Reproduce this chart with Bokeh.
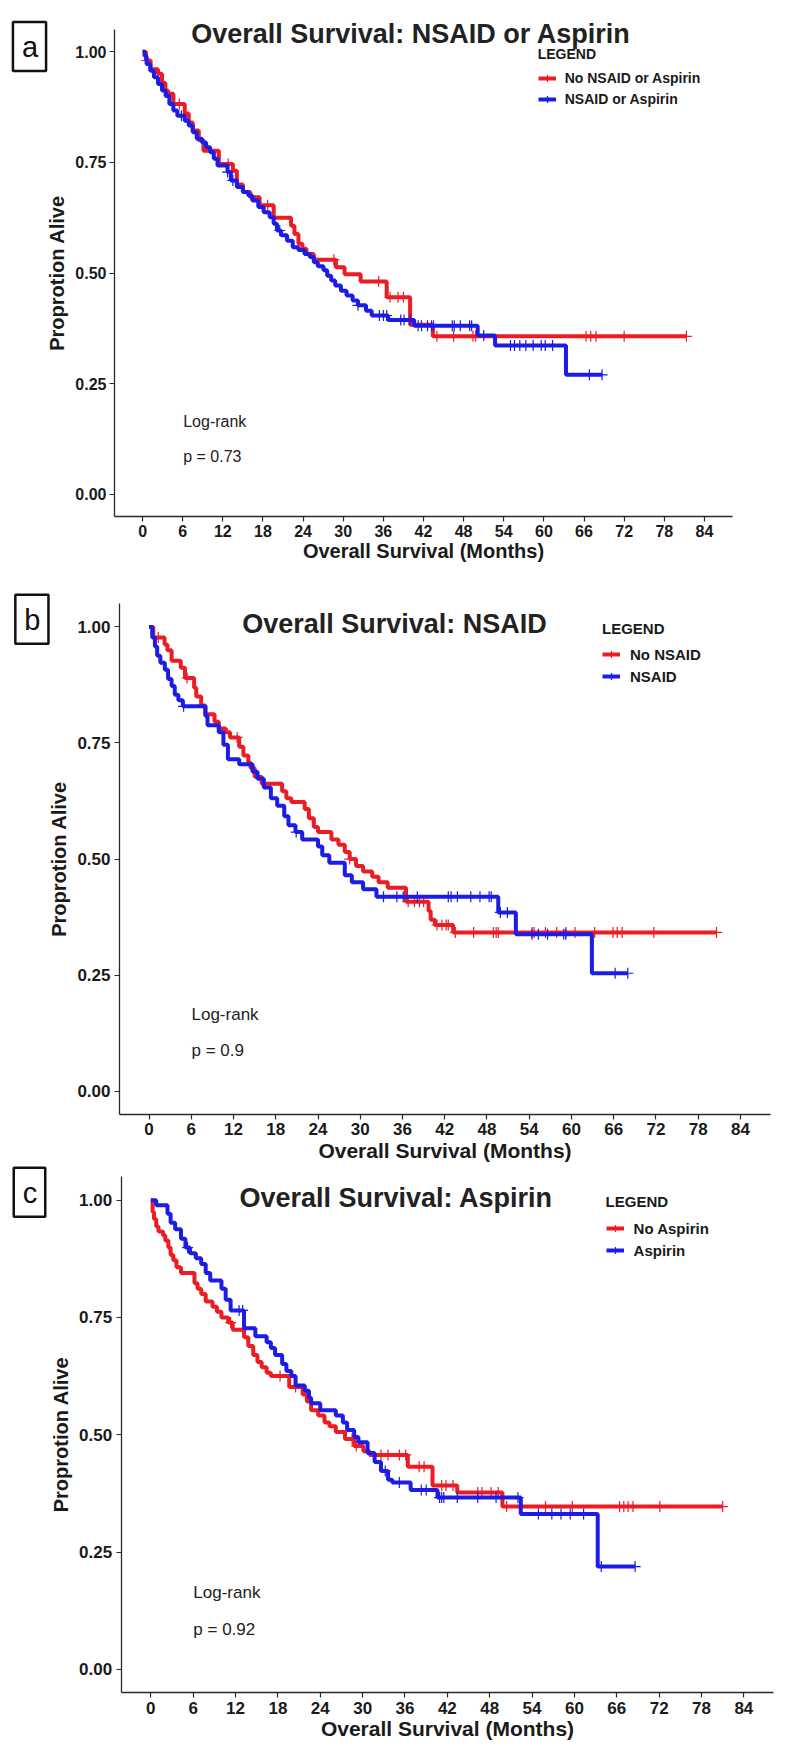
import numpy as np
from bokeh.plotting import figure
from bokeh.models import (Label, Legend, LegendItem, FixedTicker,
                          NumeralTickFormatter, Range1d)
from bokeh.layouts import column
from bokeh.embed import file_html
from bokeh.resources import INLINE

# ---------------- data ----------------
month_ticks = [0, 6, 12, 18, 24, 30, 36, 42, 48, 54, 60, 66, 72, 78, 84]
surv_ticks = [0.0, 0.25, 0.50, 0.75, 1.00]

# Panel a: NSAID or Aspirin
a_red_label = "No NSAID or Aspirin"
a_red_t = [0.5, 1.2, 2.3, 2.9, 3.4, 3.8, 4.6, 6.3, 6.9, 7.5, 8.4, 9.1, 11.4, 13.5,
           14.1, 15.0, 16.1, 17.5, 19.6, 22.2, 22.7, 23.3, 23.9, 24.5, 25.6, 28.9,
           30.2, 32.6, 36.5, 40.0, 43.4]
a_red_s = [0.980, 0.960, 0.950, 0.930, 0.912, 0.905, 0.882, 0.860, 0.840, 0.822,
           0.800, 0.776, 0.746, 0.731, 0.700, 0.683, 0.671, 0.653, 0.625, 0.607,
           0.588, 0.566, 0.555, 0.543, 0.530, 0.513, 0.497, 0.481, 0.445, 0.383,
           0.357]
a_red_c = [0.6, 5.5, 12.8, 18.7, 28.6, 35.3, 37.0, 38.2, 39.0, 44.0, 46.5, 49.4,
           49.8, 66.3, 67.0, 67.8, 72.0, 81.3]

a_blue_label = "NSAID or Aspirin"
a_blue_t = [0.3, 0.6, 1.15, 1.7, 2.3, 2.9, 3.45, 4.0, 4.6, 5.2, 6.3, 6.9, 7.5, 8.1,
            8.9, 9.5, 10.1, 10.65, 11.2, 12.7, 13.2, 14.1, 15.0, 15.8, 16.4, 17.3,
            18.1, 19.0, 19.6, 20.1, 20.7, 21.6, 22.45, 23.3, 24.2, 25.0, 25.6, 26.2,
            27.05, 27.6, 28.2, 28.8, 29.65, 30.5, 31.4, 32.2, 33.4, 34.25, 36.7,
            40.6, 50.1, 52.7, 63.3]
a_blue_s = [0.990, 0.972, 0.957, 0.942, 0.927, 0.912, 0.900, 0.882, 0.867, 0.855,
            0.844, 0.833, 0.818, 0.803, 0.795, 0.784, 0.773, 0.758, 0.743, 0.728,
            0.709, 0.694, 0.683, 0.675, 0.664, 0.649, 0.637, 0.626, 0.611, 0.596,
            0.585, 0.573, 0.558, 0.552, 0.543, 0.536, 0.524, 0.515, 0.506, 0.494,
            0.483, 0.472, 0.460, 0.449, 0.438, 0.427, 0.415, 0.404, 0.394, 0.381,
            0.359, 0.336, 0.270]
a_blue_c = [5.8, 12.7, 13.5, 20.5, 32.2, 35.4, 36.0, 36.5, 38.6, 39.1, 40.0, 41.2,
            41.7, 42.6, 43.2, 43.5, 46.3, 46.6, 47.5, 48.9, 49.2, 51.0, 55.0, 55.6,
            56.4, 57.3, 58.4, 59.6, 60.2, 61.3, 66.8, 68.7]

# Panel b: NSAID
b_red_label = "No NSAID"
b_red_t = [0.6, 2.2, 2.6, 3.2, 4.5, 5.1, 6.4, 6.7, 7.4, 8.0, 9.3, 9.9, 10.9, 11.5,
           12.8, 13.4, 14.1, 14.4, 15.0, 16.0, 18.9, 19.5, 20.2, 22.1, 22.7, 23.4,
           24.0, 25.9, 26.9, 27.8, 28.5, 29.4, 30.4, 31.7, 32.6, 33.9, 36.5, 39.7,
           40.0, 40.6, 43.2]
b_red_s = [0.977, 0.962, 0.950, 0.927, 0.912, 0.890, 0.869, 0.850, 0.831, 0.812,
           0.796, 0.781, 0.773, 0.762, 0.742, 0.723, 0.708, 0.696, 0.677, 0.662,
           0.646, 0.631, 0.623, 0.608, 0.588, 0.569, 0.558, 0.542, 0.531, 0.515,
           0.500, 0.485, 0.473, 0.462, 0.450, 0.438, 0.408, 0.388, 0.369, 0.358,
           0.342]
b_red_c = [1.3, 5.4, 12.5, 28.5, 36.8, 37.7, 38.4, 39.0, 40.9, 41.6, 42.2, 42.5,
           43.5, 46.1, 48.9, 49.3, 49.6, 54.4, 54.7, 56.3, 57.9, 59.2, 60.5, 63.3,
           65.9, 66.5, 67.2, 71.7, 80.6]

b_blue_label = "NSAID"
b_blue_t = [0.45, 0.83, 1.15, 1.6, 2.24, 2.7, 3.2, 3.65, 4.16, 4.8, 8.0, 8.3, 9.9,
            10.56, 11.2, 12.8, 14.7, 15.4, 16.3, 17.3, 18.2, 19.2, 19.8, 20.8, 21.75,
            24.0, 24.6, 25.6, 27.8, 28.8, 30.4, 32.3, 49.6, 52.1, 62.9]
b_blue_s = [0.977, 0.958, 0.938, 0.923, 0.908, 0.888, 0.873, 0.854, 0.842, 0.829,
            0.808, 0.788, 0.773, 0.746, 0.715, 0.704, 0.688, 0.673, 0.654, 0.631,
            0.615, 0.592, 0.573, 0.558, 0.542, 0.527, 0.508, 0.492, 0.465, 0.450,
            0.435, 0.419, 0.385, 0.338, 0.254]
b_blue_c = [4.9, 20.9, 33.3, 35.2, 36.1, 38.1, 42.5, 42.9, 43.8, 45.7, 47.0, 48.3,
            48.6, 49.9, 50.9, 54.4, 55.3, 56.6, 58.9, 59.2, 66.2, 68.0]

# Panel c: Aspirin
c_red_label = "No Aspirin"
c_red_t = [0.25, 0.45, 0.76, 1.08, 1.72, 2.04, 2.48, 2.8, 3.18, 3.63, 4.27, 6.18,
           6.62, 7.13, 7.77, 8.73, 9.36, 10.0, 10.96, 11.6, 13.2, 13.8, 14.5, 15.1,
           15.7, 16.4, 17.0, 19.6, 21.5, 22.1, 22.7, 23.7, 24.6, 25.3, 26.2, 27.5,
           28.8, 30.1, 31.0, 36.4, 39.9, 43.4, 49.8]
c_red_s = [0.975, 0.960, 0.944, 0.933, 0.925, 0.914, 0.899, 0.883, 0.872, 0.857,
           0.845, 0.823, 0.811, 0.800, 0.784, 0.773, 0.762, 0.750, 0.739, 0.724,
           0.708, 0.689, 0.670, 0.655, 0.644, 0.632, 0.625, 0.602, 0.586, 0.571,
           0.552, 0.541, 0.526, 0.518, 0.506, 0.491, 0.476, 0.465, 0.457, 0.432,
           0.392, 0.377, 0.347]
c_red_c = [11.3, 18.3, 20.5, 28.5, 29.1, 32.6, 33.6, 35.2, 36.1, 38.0, 38.7, 41.2,
           41.8, 42.8, 46.3, 46.9, 48.2, 49.2, 50.4, 55.9, 59.7, 66.4, 67.0, 67.6,
           68.3, 72.1, 81.0]

c_blue_label = "Aspirin"
c_blue_t = [0.76, 2.36, 2.8, 3.44, 4.27, 4.9, 5.54, 6.37, 7.13, 7.77, 8.41, 10.0,
            10.6, 11.3, 13.2, 14.8, 16.4, 17.0, 17.6, 18.6, 19.2, 19.9, 20.5, 21.8,
            22.4, 22.7, 24.0, 26.2, 27.2, 27.8, 28.8, 29.4, 30.7, 31.7, 32.6, 33.6,
            34.2, 36.8, 40.6, 52.4, 63.3]
c_blue_s = [0.989, 0.971, 0.952, 0.938, 0.918, 0.899, 0.887, 0.876, 0.864, 0.845,
            0.829, 0.811, 0.788, 0.765, 0.727, 0.710, 0.697, 0.685, 0.670, 0.651,
            0.636, 0.625, 0.605, 0.594, 0.579, 0.567, 0.552, 0.541, 0.526, 0.510,
            0.495, 0.484, 0.461, 0.442, 0.423, 0.404, 0.398, 0.382, 0.366, 0.331,
            0.219]
c_blue_c = [5.2, 12.5, 13.0, 33.2, 35.2, 38.3, 39.0, 40.9, 41.2, 41.5, 43.4, 46.3,
            48.9, 52.0, 54.9, 56.8, 58.1, 59.4, 61.3, 63.8, 68.6]

titles = ["Overall Survival: NSAID or Aspirin", "Overall Survival: NSAID",
          "Overall Survival: Aspirin"]
p_values = ["p = 0.73", "p = 0.9", "p = 0.92"]
panel_tags = ["a", "b", "c"]

# ---------------- styling / layout ----------------
RED = "#EC1C24"
BLUE = "#1C1CE6"
FONT = "Liberation Sans"
INK = "#1a1a1a"
GG_X = (-4.2, 88.2)      # ggplot panel limits (months)
GG_Y = (-0.05, 1.05)     # ggplot panel limits (proportion)
PAGE_LEFT = 0            # bokeh's standalone page has no body margin
FIG_W = 784


def km_xy(t, s, cens):
    end = max(max(cens), t[-1])
    x = [0.0] + list(t) + [end]
    y = [1.0] + list(s) + [s[-1]]
    return x, y


def censor_y(t, s, c):
    idx = np.searchsorted(np.asarray(t), np.asarray(c), side="right")
    levels = np.concatenate([[1.0], np.asarray(s)])
    return levels[idx]


def make_panel(cfg):
    L, R, T, B = cfg["frame"]          # page pixels of the ggplot panel
    top, H = cfg["page_top"], cfg["h"]
    sx = (GG_X[1] - GG_X[0]) / (R - L)
    sy = (GG_Y[1] - GG_Y[0]) / (B - T)
    x0 = GG_X[0] - (L - PAGE_LEFT) * sx
    x1 = GG_X[1] + (PAGE_LEFT + FIG_W - R) * sx
    y1 = GG_Y[1] + (T - top) * sy
    y0 = GG_Y[0] - (top + H - B) * sy

    def dx(px):
        return GG_X[0] + (px - L) * sx

    def dy(py):
        return GG_Y[1] - (py - T) * sy

    p = figure(width=FIG_W, height=H, title=None,
               x_range=Range1d(x0, x1), y_range=Range1d(y0, y1),
               output_backend="svg", toolbar_location=None,
               min_border_left=0, min_border_right=0,
               min_border_top=0, min_border_bottom=0)
    p.outline_line_color = None
    p.xgrid.visible = False
    p.ygrid.visible = False
    p.background_fill_color = "white"
    p.border_fill_color = "white"

    p.xaxis.ticker = FixedTicker(ticks=month_ticks)
    p.yaxis.ticker = FixedTicker(ticks=surv_ticks)
    p.yaxis.formatter = NumeralTickFormatter(format="0.00")
    p.xaxis.axis_label = "Overall Survival (Months)"
    p.yaxis.axis_label = "Proprotion Alive"
    p.xaxis.fixed_location = GG_Y[0]
    p.xaxis.bounds = GG_X
    p.yaxis.fixed_location = GG_X[0]
    p.yaxis.bounds = GG_Y
    for ax in (p.xaxis, p.yaxis):
        ax.axis_line_color = "#2a2a2a"
        ax.axis_line_width = 1.3
        ax.major_tick_line_color = "#2a2a2a"
        ax.major_tick_line_width = 1.2
        ax.major_tick_out = 5
        ax.major_tick_in = 0
        ax.minor_tick_out = 0
        ax.minor_tick_in = 0
        ax.major_label_standoff = cfg["tick_sd"]
        ax.major_label_text_font = FONT
        ax.major_label_text_font_style = "bold"
        ax.major_label_text_font_size = cfg["tick_fs"]
        ax.major_label_text_color = INK
        ax.axis_label_text_font = FONT
        ax.axis_label_text_font_style = "bold"
        ax.axis_label_text_color = INK
    p.xaxis.axis_label_text_font_size = cfg["xlab_fs"]
    p.yaxis.axis_label_text_font_size = "20px"
    p.xaxis.axis_label_standoff = 0
    p.yaxis.axis_label_standoff = cfg["ylab_standoff"]

    items = []
    for lab, t, s, c, col in cfg["series"]:
        x, y = km_xy(t, s, c)
        rl = p.step(x, y, mode="after", line_color=col, line_width=4)
        rc = p.scatter(c, censor_y(t, s, c), marker="cross", size=11,
                       line_color=col, line_width=1.2)
        items.append(LegendItem(label=lab, renderers=[rl, rc]))

    lg_left, lg_bottom = cfg["leg_px"]
    legend = Legend(items=items,
                    location=(lg_left - PAGE_LEFT, top + H - lg_bottom),
                    title="LEGEND",
                    border_line_color=None, background_fill_alpha=0,
                    padding=0, margin=0, spacing=cfg["leg_sp"],
                    glyph_width=18, glyph_height=18, label_height=18,
                    label_standoff=cfg["leg_standoff"],
                    title_standoff=cfg["leg_title_sd"],
                    title_text_font=FONT, title_text_font_style="bold",
                    title_text_font_size=cfg["leg_fs"], title_text_color=INK,
                    label_text_font=FONT, label_text_font_style="bold",
                    label_text_font_size=cfg["leg_fs"], label_text_color=INK)
    p.add_layout(legend)

    tx, ty = cfg["title_px"]
    p.add_layout(Label(x=dx(tx), y=dy(ty), text=cfg["title"], text_align="center",
                       text_baseline="alphabetic", text_font=FONT,
                       text_font_style="bold", text_font_size="27px",
                       text_color="#222222"))
    lx, ly1, ly2 = cfg["lr_px"]
    p.add_layout(Label(x=dx(lx), y=dy(ly1), text="Log-rank", text_align="left",
                       text_baseline="alphabetic", text_font=FONT,
                       text_font_size=cfg["lr_fs"], text_color="#222222"))
    p.add_layout(Label(x=dx(lx), y=dy(ly2), text=cfg["pval"], text_align="left",
                       text_baseline="alphabetic", text_font=FONT,
                       text_font_size=cfg["lr_fs"], text_color="#222222"))
    bx, by = cfg["tag_px"]
    p.add_layout(Label(x=dx(bx), y=dy(by), text=cfg["tag"], text_align="center",
                       text_baseline="middle", text_font=FONT,
                       text_font_size="29px", text_color="#111111",
                       border_line_color="#111111", border_line_width=2.5,
                       background_fill_color="white", padding=(9, 8, 9, 8)))
    return p


# all positions below are page pixels measured on the reference
cfgs = [
    dict(page_top=0, h=566, frame=(114, 732, 29, 516),
         tick_fs="16px", tick_sd=3, xlab_fs="20px", ylab_standoff=4,
         series=[(a_red_label, a_red_t, a_red_s, a_red_c, RED),
                 (a_blue_label, a_blue_t, a_blue_s, a_blue_c, BLUE)],
         leg_px=(537.7, 108.3), leg_sp=3, leg_standoff=9, leg_title_sd=7,
         leg_fs="14px",
         title=titles[0], title_px=(410.5, 33), pval=p_values[0],
         lr_px=(182.7, 420.7, 455.7), lr_fs="16px",
         tag=panel_tags[0], tag_px=(29, 46)),
    dict(page_top=566, h=597, frame=(119, 769.5, 603.2, 1113.9),
         tick_fs="17px", tick_sd=4, xlab_fs="21px", ylab_standoff=4,
         series=[(b_red_label, b_red_t, b_red_s, b_red_c, RED),
                 (b_blue_label, b_blue_t, b_blue_s, b_blue_c, BLUE)],
         leg_px=(602, 685.4), leg_sp=4, leg_standoff=10, leg_title_sd=8,
         leg_fs="15px",
         title=titles[1], title_px=(394, 623.6), pval=p_values[1],
         lr_px=(191, 1013.9, 1050), lr_fs="17px",
         tag=panel_tags[1], tag_px=(31.4, 618.7)),
    dict(page_top=1163, h=587, frame=(120.7, 773, 1176.2, 1692.3),
         tick_fs="17px", tick_sd=4, xlab_fs="21px", ylab_standoff=4,
         series=[(c_red_label, c_red_t, c_red_s, c_red_c, RED),
                 (c_blue_label, c_blue_t, c_blue_s, c_blue_c, BLUE)],
         leg_px=(605.6, 1259), leg_sp=4, leg_standoff=10, leg_title_sd=9,
         leg_fs="15px",
         title=titles[2], title_px=(395.7, 1197.9), pval=p_values[2],
         lr_px=(192.8, 1591.8, 1628.6), lr_fs="17px",
         tag=panel_tags[2], tag_px=(29, 1191.8)),
]

plots = [make_panel(c) for c in cfgs]
layout = column(*plots, spacing=0)

open("out.html", "w").write(file_html(layout, INLINE))
